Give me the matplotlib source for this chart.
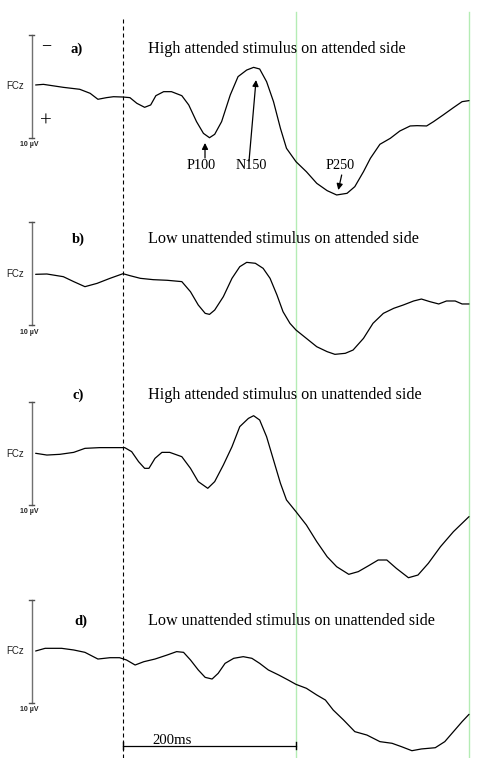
"""
ERP waveforms at FCz, four stimulus conditions
- negative up, 10 uV scale bar, 200 ms time bar
"""

import matplotlib
matplotlib.use("Agg")
import matplotlib.pyplot as plt

# ── data (ms, uV; positive plotted downward) ──────────────
TIME_A = [-101, -92, -69, -50, -38, -29, -19, -11, 0, 8, 16, 25, 32, 38, 47, 56,
          68, 76, 85, 93, 100, 106, 114, 124, 133, 143, 151, 158, 166, 174, 182,
          189, 200, 212, 224, 236, 247, 259, 268, 278, 286, 297, 309, 320, 332,
          340, 351, 359, 370, 382, 392, 400]
UV_A = [-0.10, -0.16, 0.13, 0.32, 0.71, 1.29, 1.13, 1.04, 1.07, 1.13, 1.68, 2.07,
        1.84, 0.94, 0.55, 0.55, 0.94, 1.84, 3.46, 4.60, 5.02, 4.69, 3.46, 0.87,
        -0.91, -1.55, -1.81, -1.65, -0.42, 1.52, 4.11, 6.05, 7.35, 8.32, 9.45,
        10.16, 10.58, 10.42, 9.77, 8.32, 7.02, 5.66, 5.08, 4.37, 3.88, 3.85, 3.88,
        3.46, 2.82, 2.10, 1.52, 1.42]

TIME_B = [-101, -88, -69, -57, -44, -30, -15, 0, 8, 20, 35, 51, 68, 78, 87, 95,
          100, 106, 116, 126, 135, 143, 153, 162, 170, 178, 185, 193, 200, 212,
          224, 236, 245, 257, 266, 278, 289, 301, 313, 324, 336, 345, 355, 365,
          374, 384, 392, 400]
UV_B = [0.03, 0.00, 0.26, 0.74, 1.23, 0.91, 0.42, -0.03, 0.16, 0.42, 0.55, 0.61,
        0.74, 1.72, 3.01, 3.82, 3.92, 3.50, 2.20, 0.42, -0.71, -1.13, -1.04, -0.55,
        0.42, 2.04, 3.66, 4.79, 5.44, 6.25, 7.06, 7.54, 7.80, 7.70, 7.38, 6.25,
        4.79, 3.82, 3.33, 3.01, 2.62, 2.43, 2.69, 2.91, 2.62, 2.62, 2.91, 2.91]

TIME_C = [-101, -88, -73, -57, -44, -27, -11, 2, 10, 18, 25, 30, 37, 45, 54, 68,
          78, 87, 98, 106, 116, 126, 135, 145, 151, 158, 166, 174, 182, 189, 200,
          212, 224, 236, 247, 261, 272, 284, 295, 305, 316, 330, 341, 353, 367,
          382, 400]
UV_C = [-0.02, 0.15, 0.08, -0.11, -0.50, -0.57, -0.57, -0.57, -0.18, 0.79, 1.44,
        1.44, 0.47, -0.11, -0.11, 0.31, 1.44, 2.73, 3.38, 2.73, 1.12, -0.66, -2.61,
        -3.41, -3.67, -3.25, -1.63, 0.63, 2.89, 4.51, 5.65, 6.94, 8.56, 10.02,
        10.99, 11.73, 11.47, 10.89, 10.34, 10.34, 11.15, 12.06, 11.80, 10.66, 9.05,
        7.59, 6.13]

TIME_D = [-101, -90, -71, -57, -44, -29, -15, -4, 4, 14, 24, 37, 51, 62, 70, 78,
          87, 95, 103, 110, 118, 128, 139, 149, 158, 168, 180, 191, 200, 212, 224,
          234, 243, 255, 268, 282, 297, 311, 322, 334, 345, 361, 372, 382, 392, 400]
UV_D = [0.00, -0.26, -0.26, -0.10, 0.13, 0.78, 0.65, 0.65, 0.87, 1.36, 1.04, 0.78,
        0.39, 0.06, 0.13, 0.87, 1.84, 2.56, 2.72, 2.17, 1.20, 0.71, 0.55, 0.71,
        1.20, 1.84, 2.33, 2.82, 3.24, 3.62, 4.27, 4.76, 5.73, 6.70, 7.83, 8.16,
        8.80, 8.96, 9.29, 9.68, 9.51, 9.39, 8.80, 7.83, 6.86, 6.15]

LABELS = ["a)", "b)", "c)", "d)"]
TITLES = ["High attended stimulus on attended side",
          "Low unattended stimulus on attended side",
          "High attended stimulus on unattended side",
          "Low unattended stimulus on unattended side"]
PEAKS = ["P100", "N150", "P250"]

# ── layout ────────────────────────────────────────────────
W, H = 480, 758
X0_PX = 123            # stimulus onset
PX_PER_MS = 0.865
PX_PER_UV = 10.3
BASE_PX = [86, 274, 453.5, 651]
YLIM = (13, -8)        # uV, inverted: positive down
TITLE_Y = [-3.23, -2.98, -5.29, -2.52]
LABEL_X = [-61, -59, -58, -56.5]

SERIF = ["Liberation Serif", "DejaVu Serif"]
SANS = ["Liberation Sans", "DejaVu Sans"]
GREEN = "#b4ecb4"

XLIM = (-X0_PX / PX_PER_MS, (W - X0_PX) / PX_PER_MS)

fig = plt.figure(figsize=(W / 100, H / 100), dpi=100)
fig.patch.set_facecolor("white")

# background axes for the full-height time markers
bg = fig.add_axes([0, 0, 1, 1])
bg.set_xlim(*XLIM)
bg.set_ylim(0, 1)
bg.axis("off")
bg.axvline(0, ymin=0, ymax=1 - 18 / H, color="black", lw=0.8,
           linestyle=(0, (3.6, 2.7)))
for t in (200, 400):
    bg.axvline(t, ymin=0, ymax=1 - 12 / H, color=GREEN, lw=1.0)

series = [(TIME_A, UV_A), (TIME_B, UV_B), (TIME_C, UV_C), (TIME_D, UV_D)]
panels = []
for i, (t, v) in enumerate(series):
    top_px = BASE_PX[i] + YLIM[1] * PX_PER_UV
    h_px = (YLIM[0] - YLIM[1]) * PX_PER_UV
    ax = fig.add_axes([0, 1 - (top_px + h_px) / H, 1, h_px / H])
    ax.set_xlim(*XLIM)
    ax.set_ylim(*YLIM)
    ax.axis("off")
    ax.patch.set_alpha(0)
    panels.append(ax)

    ax.plot(t, v, color="black", lw=0.9, clip_on=False,
            solid_joinstyle="round", solid_capstyle="round")

    # scale bar
    bx = -105.5
    ax.plot([bx, bx], [-5, 5], color="#707070", lw=1.0)
    for yy in (-5, 5):
        ax.plot([bx - 3, bx + 3], [yy, yy], color="#505050", lw=1.0)
    ax.text(-114.5, 0, "FCz", ha="right", va="center", fontsize=7,
            family=SANS, color="#222")
    ax.text(-108.5, 5.65, "10 µV", ha="center", va="center", fontsize=5,
            family=SANS, color="#222", fontweight="bold")

    ax.text(LABEL_X[i], TITLE_Y[i], LABELS[i], ha="left", va="baseline",
            fontsize=10.5, family=SERIF, fontweight="bold")
    ax.text(29, TITLE_Y[i], TITLES[i], ha="left", va="baseline",
            fontsize=11.6, family=SERIF)

# polarity marks and peak labels on panel a
pa = panels[0]
pa.text(-89, -3.9, "−", ha="center", va="center", fontsize=13, family=SERIF)
pa.text(-89, 3.47, "+", ha="center", va="center", fontsize=15, family=SERIF)

peak_x = [90.2, 148.8, 250.9]
arrows = [((94.8, 6.99), (94.8, 5.53)),
          ((145.7, 7.28), (153.8, -0.58)),
          ((252.8, 8.64), (248.9, 10.1))]
for name, px, (tail, head) in zip(PEAKS, peak_x, arrows):
    pa.text(px, 8.09, name, ha="center", va="baseline", fontsize=10.3, family=SERIF)
    pa.annotate("", xy=head, xytext=tail,
                arrowprops=dict(arrowstyle="-|>", color="black", lw=0.9,
                                mutation_scale=9, shrinkA=0, shrinkB=0))

# time bar on panel d
pd_ = panels[3]
pd_.plot([0, 200], [9.19, 9.19], color="black", lw=0.9)
pd_.plot([200, 200], [8.85, 9.55], color="black", lw=1.0)
pd_.plot([0, 0], [8.85, 9.55], color="black", lw=1.0)
pd_.text(57, 9.05, "200ms", ha="center", va="baseline", fontsize=10.6, family=SERIF)

plt.savefig("out.png", dpi=100, facecolor="white")
plt.close()
